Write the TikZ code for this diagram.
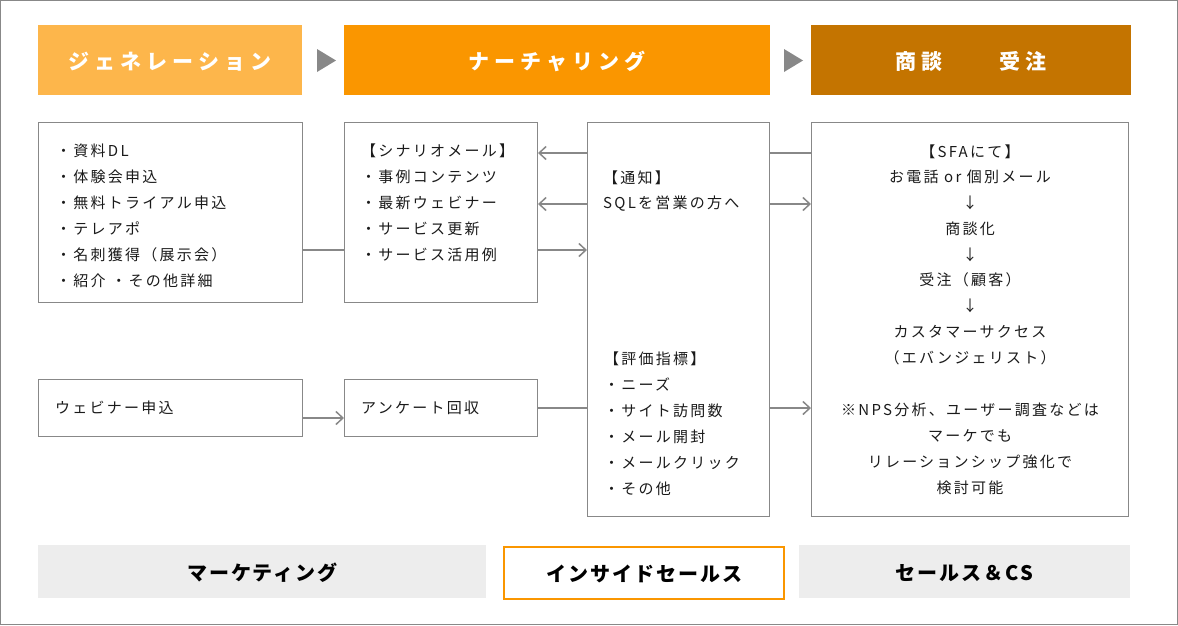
\documentclass[tikz,border=0pt]{standalone}
\usepackage{fontspec}
\usetikzlibrary{arrows.meta}
\newfontfamily\jpbody[LetterSpace=15]{Noto Sans CJK JP}
\newfontfamily\jphead[LetterSpace=24]{Noto Sans CJK JP}
\newfontfamily\jpfoot[LetterSpace=10]{Noto Sans CJK JP}
\definecolor{hdA}{HTML}{FDB64B}
\definecolor{hdB}{HTML}{FA9600}
\definecolor{hdC}{HTML}{C47400}
\definecolor{lncol}{HTML}{888888}
\definecolor{ft}{HTML}{EDEDED}
\definecolor{tx}{HTML}{1A1A1A}
\tikzset{
  box/.style={draw=lncol, line width=1pt, anchor=north west, inner sep=0pt},
  head/.style={fill=#1, anchor=north west, inner sep=0pt, text=white,
    text height=18pt, text depth=0pt,
    font=\jphead\bfseries\fontsize{21}{24}\selectfont},
  foot/.style={anchor=north west, inner sep=0pt, text=black,
    text height=17pt, text depth=0pt,
    font=\jpfoot\bfseries\fontsize{20}{23}\selectfont},
  txt/.style={inner sep=0pt, text=tx, text height=13.2pt, text depth=1.8pt,
    font=\jpbody\fontsize{15}{18}\selectfont},
  conn/.style={draw=lncol, line width=1.6pt},
  arr/.style={conn, -{Straight Barb[length=7pt,width=13pt,line width=1.5pt]}},
  tri/.style={fill=lncol}
}
\begin{document}
\begin{tikzpicture}[x=1pt,y=-1pt]
\useasboundingbox (0,0) rectangle (1178,625);
\draw[draw=lncol, line width=1pt] (0.5,0.5) rectangle (1177.5,624);
% headers
\node[head=hdA, minimum width=264pt, minimum height=70pt] (h1) at (38,25) {ジェネレーション};
\node[head=hdB, minimum width=426pt, minimum height=70pt] (h2) at (344,25) {ナーチャリング};
\node[head=hdC, minimum width=320pt, minimum height=70pt] (h3) at (811,25) {商談　　受注};
\fill[tri] (317,49) -- (336,60.5) -- (317,72) -- cycle;
\fill[tri] (784,49) -- (803,60.5) -- (784,72) -- cycle;
% boxes
\node[box, minimum width=264pt, minimum height=180pt] (A) at (38,122) {};
\node[box, minimum width=193pt, minimum height=180pt] (B) at (344,122) {};
\node[box, minimum width=182pt, minimum height=394pt] (C) at (587,122) {};
\node[box, minimum width=317pt, minimum height=394pt] (D) at (811,122) {};
\node[box, minimum width=264pt, minimum height=57pt] (E) at (38,379) {};
\node[box, minimum width=193pt, minimum height=57pt] (F) at (344,379) {};
% box texts
\foreach \t [count=\i] in {・資料DL,・体験会申込,・無料トライアル申込,・テレアポ,・名刺獲得（展示会）,・紹介 ・その他詳細}
  \node[txt, anchor=west] (ta\i) at (56,{151+26*(\i-1)}) {\t};
\foreach \t [count=\i] in {【シナリオメール】,・事例コンテンツ,・最新ウェビナー,・サービス更新,・サービス活用例}
  \node[txt, anchor=west] (tb\i) at (361,{151+26*(\i-1)}) {\t};
\foreach \t [count=\i] in {【通知】,SQLを営業の方へ}
  \node[txt, anchor=west] (tc\i) at (603,{178+25*(\i-1)}) {\t};
\foreach \t [count=\i] in {【評価指標】,・ニーズ,・サイト訪問数,・メール開封,・メールクリック,・その他}
  \node[txt, anchor=west] (td\i) at (604,{359+26*(\i-1)}) {\t};
\foreach \y/\t [count=\i] in {152/【SFAにて】,177/お電話 or 個別メール,203/↓,229/商談化,255/↓,280/受注（顧客）,306/↓,332/カスタマーサクセス,358/（エバンジェリスト）,410/※NPS分析、ユーザー調査などは,436/マーケでも,462/リレーションシップ強化で,488/検討可能}
  \node[txt, anchor=center] (te\i) at (970,\y) {\t};
\node[txt, anchor=west] (tf) at (55,408) {ウェビナー申込};
\node[txt, anchor=west] (tg) at (361,408) {アンケート回収};
% connectors
\coordinate (r1) at (0,153);
\coordinate (r2) at (0,204);
\coordinate (r3) at (0,250);
\coordinate (r4) at (0,408);
\coordinate (r5) at (0,418);
\draw[conn] (A.east |- r3) -- (B.west |- r3);
\draw[arr] (C.west |- r1) -- (B.east |- r1);
\draw[arr] (C.west |- r2) -- (B.east |- r2);
\draw[arr] (B.east |- r3) -- (C.west |- r3);
\draw[conn] (C.east |- r1) -- (D.west |- r1);
\draw[arr] (C.east |- r2) -- (D.west |- r2);
\draw[arr] (E.east |- r5) -- (F.west |- r5);
\draw[conn] (F.east |- r4) -- (C.west |- r4);
\draw[arr] (C.east |- r4) -- (D.west |- r4);
% footer
\node[foot, fill=ft, minimum width=448pt, minimum height=53pt] (f1) at (38,545) {マーケティング};
\node[foot, draw=hdB, line width=2pt, minimum width=280pt, minimum height=52pt] (f2) at (503,546) {インサイドセールス};
\node[foot, fill=ft, minimum width=331pt, minimum height=53pt] (f3) at (799,545) {セールス＆CS};
\end{tikzpicture}
\end{document}
